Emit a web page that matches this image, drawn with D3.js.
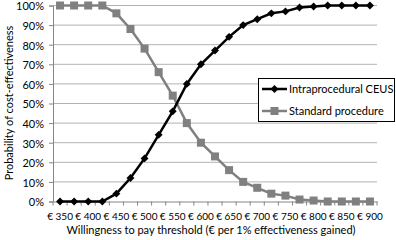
<!DOCTYPE html>
<html><head><meta charset="utf-8">
<script src="https://cdn.jsdelivr.net/npm/d3@7"></script>
<style>body{margin:0;background:#fff}svg{display:block}text{font-family:Lato,"Open Sans",sans-serif;fill:#000}</style>
</head><body><svg id="c" width="396" height="240"></svg>
<script>
const categories = [350,375,400,425,450,475,500,525,550,575,600,625,650,675,700,725,750,775,800,825,850,875,900];
const ceus = [0,0,0,0,4,12,22,34,46,60,70,77,84,90,93,96,97,99,99.5,100,100,100,100];
const standard = [100,100,100,100,96,88,78,66,54,40,30,23,16,10,7,4,3,1,0.5,0,0,0,0];
const yTicks = [0,10,20,30,40,50,60,70,80,90,100];
const xLabels = categories.filter((d,i)=>i%2===0);
const seriesNames = ["Intraprocedural CEUS","Standard procedure"];

const svg = d3.select("#c");
const L=53,R=377,T=5.5,B=201.5;
const x = d3.scaleBand().domain(categories).range([L,R]).padding(0);
const y = d3.scaleLinear().domain([0,100]).range([B,T]);
const cx = d => x(d)+x.bandwidth()/2;

// gridlines
svg.append("g").selectAll("line").data(yTicks.filter(d=>d>0)).join("line")
  .attr("x1",L).attr("x2",R).attr("y1",d=>y(d)).attr("y2",d=>y(d))
  .attr("stroke","#b3b3b3").attr("stroke-width",1);

// y axis
const ya = svg.append("g").attr("transform",`translate(${L},0)`)
  .call(d3.axisLeft(y).tickValues(yTicks).tickFormat(d=>d+"%").tickSize(4).tickPadding(5));
ya.select(".domain").attr("stroke","#868686");
ya.selectAll(".tick line").attr("stroke","#868686");
ya.selectAll("text").attr("font-size",11).attr("font-family","Lato").attr("fill","#000").attr("dy","0.4em");

// x axis
const xa = svg.append("g").attr("transform",`translate(0,${B})`)
  .call(d3.axisBottom(x).tickValues(xLabels).tickFormat(d=>"€\u00a0"+d).tickSize(0).tickPadding(11));
xa.select(".domain").attr("stroke","#868686");
xa.selectAll("text").attr("font-size",10).attr("font-family","Lato").attr("fill","#000");
svg.append("g").selectAll("line").data(categories.concat([null])).join("line")
  .attr("x1",(d,i)=>L+i*x.bandwidth()).attr("x2",(d,i)=>L+i*x.bandwidth())
  .attr("y1",B).attr("y2",B+4).attr("stroke","#868686");

// lines
const line = d3.line().x((d,i)=>cx(categories[i])).y(d=>y(d));
svg.append("path").datum(standard).attr("d",line).attr("fill","none").attr("stroke","#808080").attr("stroke-width",2.5);
svg.append("g").selectAll("rect").data(standard).join("rect")
  .attr("x",(d,i)=>cx(categories[i])-4).attr("y",d=>y(d)-4).attr("width",8).attr("height",8).attr("fill","#808080");
svg.append("path").datum(ceus).attr("d",line).attr("fill","none").attr("stroke","#000").attr("stroke-width",2.5);
const diamond = d3.symbol().type(d3.symbolDiamond2).size(40);
svg.append("g").selectAll("path").data(ceus).join("path")
  .attr("d",diamond).attr("transform",(d,i)=>`translate(${cx(categories[i])},${y(d)})`).attr("fill","#000");

// legend
const lg = svg.append("g");
lg.append("rect").attr("x",258.5).attr("y",78.5).attr("width",136).attr("height",43).attr("fill","#fff").attr("stroke","#000");
const ly=[89,111];
lg.append("line").attr("x1",262).attr("x2",287).attr("y1",ly[0]).attr("y2",ly[0]).attr("stroke","#000").attr("stroke-width",2.5);
lg.append("path").attr("d",diamond).attr("transform",`translate(274.5,${ly[0]})`).attr("fill","#000");
lg.append("line").attr("x1",262).attr("x2",287).attr("y1",ly[1]).attr("y2",ly[1]).attr("stroke","#808080").attr("stroke-width",2.5);
lg.append("rect").attr("x",270.5).attr("y",ly[1]-4).attr("width",8).attr("height",8).attr("fill","#808080");
lg.selectAll("text.l").data(seriesNames).join("text").attr("class","l")
  .attr("x",289).attr("y",(d,i)=>ly[i]+4).attr("font-size",11).text(d=>d);

// titles
svg.append("text").attr("x",211).attr("y",234).attr("text-anchor","middle").attr("font-size",11)
  .text("Willingness to pay threshold (€ per 1% effectiveness gained)");
svg.append("text").attr("transform","translate(13,103) rotate(-90)").attr("text-anchor","middle").attr("font-size",11)
  .text("Probability of cost-effectiveness");
</script></body></html>
